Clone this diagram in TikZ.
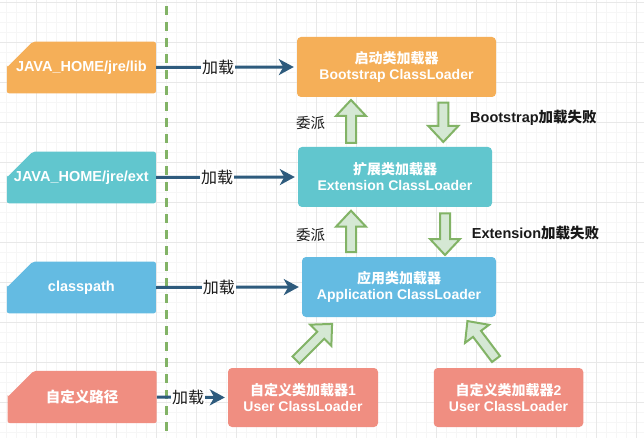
\documentclass[tikz,border=0pt]{standalone}
\usepackage{fontspec}
\setmainfont{Liberation Sans}
\newfontfamily\cjk{Noto Sans CJK SC}
\usetikzlibrary{arrows.meta,shapes.misc}
\definecolor{corange}{HTML}{F5AF58}
\definecolor{cteal}{HTML}{61C6CE}
\definecolor{cblue}{HTML}{64BBE2}
\definecolor{csalmon}{HTML}{F08E81}
\definecolor{carrow}{HTML}{2E5B7D}
\definecolor{gfill}{HTML}{D5E8D4}
\definecolor{gline}{HTML}{82B366}
\definecolor{gridmajor}{HTML}{E8E8E8}
\definecolor{gridminor}{HTML}{F6F6F6}
\tikzset{
  card/.style={chamfered rectangle, chamfered rectangle corners=north west,
    chamfered rectangle xsep=20pt, chamfered rectangle ysep=19pt,
    minimum width=149pt, minimum height=49.6pt, inner sep=0pt,
    rounded corners=2pt, draw=none, text=white,
    font=\bfseries\fontsize{14.5}{16}\selectfont},
  loader/.style={rectangle, rounded corners=4pt, draw=none, text=white, align=center,
    inner sep=0pt, font=\bfseries\fontsize{14}{16}\selectfont},
  loadarrow/.style={draw=carrow, line width=3pt, shorten >=3pt,
    -{Stealth[length=15pt,width=16pt,inset=4.5pt]}},
  loadlabel/.style={fill=white, inner sep=1pt, text=black!90, font=\cjk\fontsize{16}{18}\selectfont},
  sidelabel/.style={anchor=west, inner sep=0pt, text=black!90},
  blockarrow/.style={draw=gline, fill=gfill, line width=2pt, line join=miter}
}
\newcommand\gblock[3]{%
  \begin{scope}[shift={(#1)},rotate=#2]
    \draw[blockarrow] (0,-5) -- ({#3-16},-5) -- ({#3-16},-15) -- (#3,0)
      -- ({#3-16},15) -- ({#3-16},5) -- (0,5) -- cycle;
  \end{scope}}
\begin{document}
\begin{tikzpicture}[x=1pt,y=-1pt]
\useasboundingbox (0,0) rectangle (644,438);
\fill[white] (0,0) rectangle (644,438);
% grid
\foreach \i in {0,...,65} {
  \draw[gridminor, line width=0.8pt] ({-3.3+10*\i},0) -- ({-3.3+10*\i},438);
}
\foreach \j in {0,...,44} {
  \draw[gridminor, line width=0.8pt] (0,{2.7+10*\j}) -- (644,{2.7+10*\j});
}
\foreach \i in {0,...,16} {
  \draw[gridmajor, line width=1pt] ({-3.3+40*\i},0) -- ({-3.3+40*\i},438);
}
\foreach \j in {0,...,11} {
  \draw[gridmajor, line width=1pt] (0,{2.7+40*\j}) -- (644,{2.7+40*\j});
}
% dashed separator
\coordinate (sepTop) at (166,6);
\coordinate (sepBot) at (166,438);
\draw[gline, line width=3pt, dash pattern=on 9pt off 7pt] (sepTop) -- (sepBot);

% source cards
\node[card, fill=corange] (lib) at (81.4,67.5) {JAVA\_HOME/jre/lib};
\node[card, fill=cteal] (ext) at (81.4,177.5) {JAVA\_HOME/jre/ext};
\node[card, fill=cblue] (cp) at (81.4,287.5) {classpath};
\node[card, fill=csalmon] (custom) at (82.1,397) {{\cjk 自定义路径}};

% loaders
\node[loader, fill=corange, minimum width=199pt, minimum height=60pt] (boot) at (396.5,67)
  {{\cjk 启动类加载器}\\Bootstrap ClassLoader};
\node[loader, fill=cteal, minimum width=194pt, minimum height=60pt] (extl) at (395,177)
  {{\cjk 扩展类加载器}\\Extension ClassLoader};
\node[loader, fill=cblue, minimum width=194pt, minimum height=60pt] (app) at (399,287)
  {{\cjk 应用类加载器}\\Application ClassLoader};
\node[loader, fill=csalmon, minimum width=150pt, minimum height=59pt] (user1) at (303,397.5)
  {{\cjk 自定义类加载器}1\\User ClassLoader};
\node[loader, fill=csalmon, minimum width=149.5pt, minimum height=59pt] (user2) at (508.5,397.5)
  {{\cjk 自定义类加载器}2\\User ClassLoader};

% load arrows
\draw[loadarrow] (lib.east) -- (boot.west) node[loadlabel, pos=0.44] {加载};
\draw[loadarrow] (ext.east) -- (extl.west) node[loadlabel, pos=0.43] {加载};
\draw[loadarrow] (cp.east) -- (app.west) node[loadlabel, pos=0.43] {加载};
\draw[loadarrow] (custom.east) -- (user1.west) node[loadlabel, pos=0.44] {加载};

% delegation block arrows
\gblock{351,143}{90}{43}
\gblock{443.3,102.7}{-90}{39.3}
\gblock{351,252}{90}{41.3}
\gblock{445,213.3}{-90}{41.7}
\gblock{296,360}{45}{51}
\gblock{496,359}{127}{47.5}

% side labels
\node[sidelabel, font=\cjk\fontsize{14.5}{17}\selectfont] (d1) at (296,123.3) {委派};
\node[sidelabel, font=\cjk\fontsize{14.5}{17}\selectfont] (d2) at (296,235) {委派};
\node[sidelabel, font=\bfseries\fontsize{14.5}{17}\selectfont] (f1) at (470,117.5) {Bootstrap{\cjk 加载失败}};
\node[sidelabel, font=\bfseries\fontsize{14.5}{17}\selectfont] (f2) at (471.7,232.7) {Extension{\cjk 加载失败}};
\end{tikzpicture}
\end{document}
